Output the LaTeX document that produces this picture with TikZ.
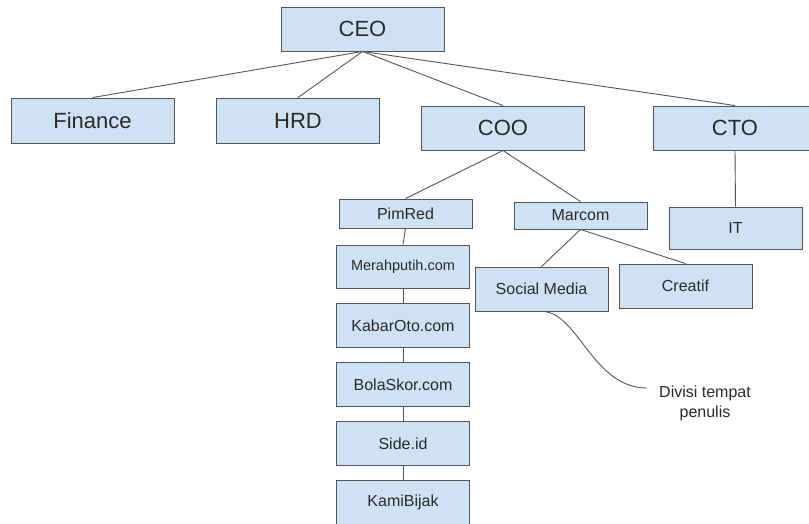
\documentclass[tikz,border=0pt]{standalone}
\usepackage{fontspec}
\setmainfont{Liberation Sans}
\usetikzlibrary{positioning}
\definecolor{boxfill}{HTML}{CFE2F3}
\definecolor{boxline}{HTML}{555555}
\definecolor{textgrey}{HTML}{2A2A2A}
\tikzset{
    on grid,
    chief/.style = {
        draw=boxline,
        fill=boxfill,
        shape=rectangle,
        inner sep=0pt,
        minimum height=44pt,
        minimum width=163pt,
        line width=0.9pt,
        text=textgrey,
        font=\fontsize{22}{26}\selectfont
    },
    dept/.style = {
        draw=boxline,
        fill=boxfill,
        shape=rectangle,
        inner sep=0pt,
        minimum height=28pt,
        minimum width=133pt,
        line width=0.9pt,
        text=textgrey,
        font=\fontsize{16}{19}\selectfont
    },
    unit/.style = {
        dept,
        minimum height=44pt
    },
    link/.style = {
        draw=boxline,
        line width=0.9pt
    },
}

\begin{document}
\begin{tikzpicture}[x=1pt, y=-1pt, node distance=59pt]
    \useasboundingbox (0,0) rectangle (809,523);
        % top level
        \node[chief] (ceo) at (362.5,29) {CEO};
        \node[chief, minimum height=45pt] (finance) at (92.5,120.5) {Finance};
        \node[chief, minimum height=45pt] (hrd) at (298,120.5) {HRD};
        \node[chief] (coo) at (503,128) {COO};
        \node[chief] (cto) at (735,128) {CTO};

        \path[link] (ceo.south) -- (finance.north);
        \path[link] (ceo.south) -- (hrd.north);
        \path[link] (ceo.south) -- (coo.north);
        \path[link] (ceo.south) -- (cto.north);

        % under COO and CTO
        \node[dept, minimum height=29pt] (pimred) at (405.5,213.5) {PimRed};
        \node[dept, minimum height=27pt] (marcom) at (580.5,215.5) {Marcom};
        \node[unit, minimum height=42pt] (it) at (735.5,228) {IT};

        \path[link] (coo.south) -- (pimred.north);
        \path[link] (coo.south) -- (marcom.north);
        \path[link] (cto.south) -- (it.north);

        % media under PimRed
        \node[unit, minimum height=43pt, font=\fontsize{14.5}{17}\selectfont] (merah) at (403,266.5) {Merahputih.com};
        \node[unit, below of=merah] (kabar) {KabarOto.com};
        \node[unit, below of=kabar] (bola) {BolaSkor.com};
        \node[unit, below of=bola] (side) {Side.id};
        \node[unit, below of=side] (kami) {KamiBijak};

        \path[link] (pimred.south) -- (merah.north);
        \path[link] (merah.south) -- (kabar.north);
        \path[link] (kabar.south) -- (bola.north);
        \path[link] (bola.south) -- (side.north);
        \path[link] (side.south) -- (kami.north);

        % under Marcom
        \node[unit] (social) at (541.5,289) {Social Media};
        \node[unit] (creatif) at (685.5,286) {Creatif};

        \path[link] (marcom.south) -- (social.north);
        \path[link] (marcom.south) -- (creatif.north);

        % note
        \node[align=center, text=textgrey, font=\fontsize{16}{20}\selectfont] (note) at (705,403) {Divisi tempat\\penulis};
        \coordinate (noteend) at (647,388);
        \path[link] (social.south) .. controls (578,311) and (592,388) .. (noteend);
    \end{tikzpicture}
\end{document}
